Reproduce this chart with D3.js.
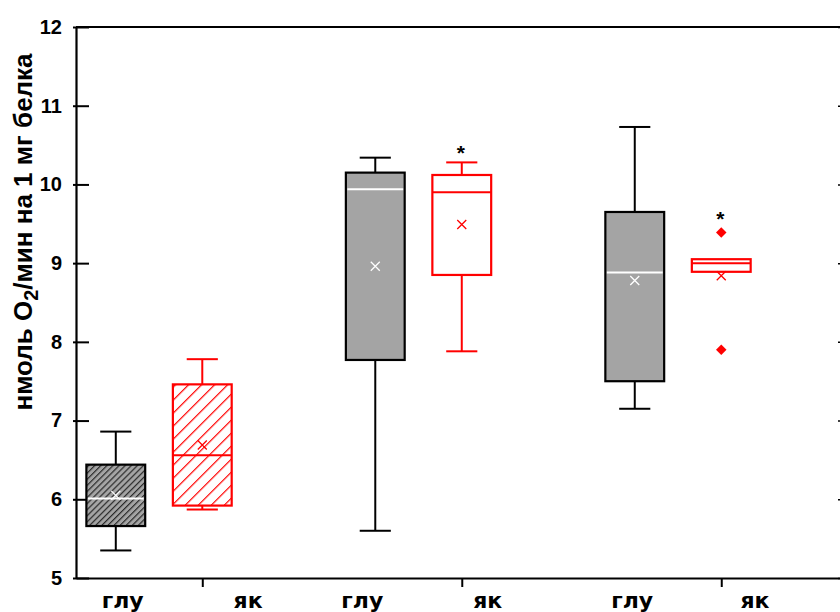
<!DOCTYPE html>
<html>
<head>
<meta charset="utf-8">
<script src="https://cdn.jsdelivr.net/npm/d3@7"></script>
<style>
  html, body { margin: 0; padding: 0; background: #fff; }
  svg { display: block; }
</style>
</head>
<body>
<svg id="chart" width="840" height="612"></svg>
<script>
// ---- data ----
const categories  = ["глу", "як", "глу", "як", "глу", "як"];
const seriesType  = ["глу", "як", "глу", "як", "глу", "як"];
const hatched     = [true, true, false, false, false, false];
const whiskerLow  = [5.35, 5.87, 5.60, 7.88, 7.15, 8.89];
const q1          = [5.66, 5.92, 7.77, 8.85, 7.50, 8.89];
const median      = [6.01, 6.56, 9.94, 9.90, 8.88, 9.00];
const q3          = [6.44, 7.46, 10.15, 10.12, 9.65, 9.05];
const whiskerHigh = [6.86, 7.78, 10.34, 10.28, 10.73, 9.05];
const meanVal     = [6.05, 6.69, 8.96, 9.49, 8.78, 8.84];
const outliers    = [[], [], [], [], [], [9.39, 7.90]];
const significant = [false, false, false, true, false, true];
const yTicks      = [5, 6, 7, 8, 9, 10, 11, 12];
const xTickPos    = [1, 4, 7];

// ---- layout ----
const catPos   = [0, 1, 3, 4, 6, 7];
const labelPos = [0.08, 1.53, 2.85, 4.30, 5.97, 7.39];
const svg = d3.select("#chart");
const mLeft = 76, mRight = 851, mTop = 27, mBottom = 578;
const x = d3.scaleLinear().domain([-0.46, 8.5]).range([mLeft, mRight]);
const y = d3.scaleLinear().domain([5, 12]).range([mBottom, mTop]);
const unit = x(1) - x(0);
const boxW = 0.68 * unit, capW = 0.36 * unit;
const RED = "#ff0000", GRAY = "#a4a4a4";

// patterns
const defs = svg.append("defs");
const p1 = defs.append("pattern").attr("id", "hatchDark")
  .attr("patternUnits", "userSpaceOnUse").attr("width", 4.3).attr("height", 10)
  .attr("patternTransform", "rotate(45)");
p1.append("rect").attr("width", 4.3).attr("height", 10).attr("fill", GRAY);
p1.append("line").attr("x1", 0.6).attr("x2", 0.6).attr("y1", 0).attr("y2", 10)
  .attr("stroke", "#2a2a2a").attr("stroke-width", 1.2);
const p2 = defs.append("pattern").attr("id", "hatchRed")
  .attr("patternUnits", "userSpaceOnUse").attr("width", 9.2).attr("height", 10)
  .attr("patternTransform", "rotate(45)");
p2.append("rect").attr("width", 9.2).attr("height", 10).attr("fill", "#fff");
p2.append("line").attr("x1", 0.6).attr("x2", 0.6).attr("y1", 0).attr("y2", 10)
  .attr("stroke", RED).attr("stroke-width", 1.2);

// frame lines
const g = svg.append("g");
g.append("line").attr("x1", mLeft).attr("x2", 860).attr("y1", mTop).attr("y2", mTop)
  .attr("stroke", "#000").attr("stroke-width", 2);
g.append("line").attr("x1", mRight).attr("x2", mRight).attr("y1", mTop).attr("y2", mBottom)
  .attr("stroke", "#000").attr("stroke-width", 2);

// left axis
const yAxis = d3.axisLeft(y).tickValues(yTicks).tickSizeInner(-13).tickSizeOuter(0).tickPadding(14).tickFormat(d3.format("d"));
const ya = svg.append("g").attr("transform", `translate(${mLeft},0)`).call(yAxis);
ya.select(".domain").attr("stroke", "#000").attr("stroke-width", 2.2);
ya.selectAll(".tick line").attr("stroke", "#000").attr("stroke-width", 2).attr("x1", -3);
ya.selectAll(".tick text").attr("font-family", "'Liberation Sans', Arial, sans-serif")
  .attr("font-weight", "bold").attr("font-size", 20).attr("fill", "#000").attr("x", -14);

// right axis ticks
const yAxisR = d3.axisRight(y).tickValues(yTicks).tickSizeInner(-13).tickSizeOuter(0).tickFormat("");
const yr = svg.append("g").attr("transform", `translate(${mRight},0)`).call(yAxisR);
yr.select(".domain").attr("stroke", "#000").attr("stroke-width", 2);
yr.selectAll(".tick line").attr("stroke", "#000").attr("stroke-width", 1.5);

// bottom axis
const xAxis = d3.axisBottom(x).tickValues(xTickPos).tickSizeInner(9).tickSizeOuter(0).tickFormat("");
const xa = svg.append("g").attr("transform", `translate(0,${mBottom})`).call(xAxis);
xa.select(".domain").attr("stroke", "#000").attr("stroke-width", 2.2);
xa.selectAll(".tick line").attr("stroke", "#000").attr("stroke-width", 2);

// x labels
svg.append("g").selectAll("text").data(categories).join("text")
  .attr("x", (d, i) => x(labelPos[i])).attr("y", 608)
  .attr("text-anchor", "middle")
  .attr("font-family", "'DejaVu Sans', Verdana, sans-serif")
  .attr("font-weight", "bold").attr("font-size", 22).attr("fill", "#000")
  .text(d => d);

// y label
const yl = svg.append("text")
  .attr("transform", "translate(32,232) rotate(-90)")
  .attr("text-anchor", "middle")
  .attr("font-family", "'Liberation Sans', Arial, sans-serif")
  .attr("font-weight", "bold").attr("font-size", 26).attr("fill", "#000");
yl.append("tspan").text("нмоль O");
yl.append("tspan").attr("dy", 6).attr("font-size", 20).text("2");
yl.append("tspan").attr("dy", -6).text("/мин на 1 мг белка");

// boxes
const boxes = svg.append("g").selectAll("g").data(categories).join("g");
boxes.each(function(d, i) {
  const s = d3.select(this);
  const cx = x(catPos[i]);
  const isRed = seriesType[i] === "як";
  const stroke = isRed ? RED : "#000";
  const fill = hatched[i] ? (isRed ? "url(#hatchRed)" : "url(#hatchDark)") : (isRed ? "#fff" : GRAY);
  const medColor = isRed ? RED : "#fff";
  // whiskers
  s.append("line").attr("x1", cx).attr("x2", cx).attr("y1", y(q3[i])).attr("y2", y(whiskerHigh[i]))
    .attr("stroke", stroke).attr("stroke-width", 2);
  s.append("line").attr("x1", cx).attr("x2", cx).attr("y1", y(q1[i])).attr("y2", y(whiskerLow[i]))
    .attr("stroke", stroke).attr("stroke-width", 2);
  if (whiskerHigh[i] > q3[i]) {
    s.append("line").attr("x1", cx - capW / 2).attr("x2", cx + capW / 2)
      .attr("y1", y(whiskerHigh[i])).attr("y2", y(whiskerHigh[i]))
      .attr("stroke", stroke).attr("stroke-width", 2);
  }
  if (whiskerLow[i] < q1[i]) {
    s.append("line").attr("x1", cx - capW / 2).attr("x2", cx + capW / 2)
      .attr("y1", y(whiskerLow[i])).attr("y2", y(whiskerLow[i]))
      .attr("stroke", stroke).attr("stroke-width", 2);
  }
  // box
  s.append("rect").attr("x", cx - boxW / 2).attr("width", boxW)
    .attr("y", y(q3[i])).attr("height", y(q1[i]) - y(q3[i]))
    .attr("fill", fill).attr("stroke", stroke).attr("stroke-width", 2.2);
  // median
  s.append("line").attr("x1", cx - boxW / 2 + (isRed ? 0 : 1.5)).attr("x2", cx + boxW / 2 - (isRed ? 0 : 1.5))
    .attr("y1", y(median[i])).attr("y2", y(median[i]))
    .attr("stroke", medColor).attr("stroke-width", 2);
  // mean x
  const my = y(meanVal[i]), r = 4.5;
  s.append("path").attr("d", `M${cx - r},${my - r}L${cx + r},${my + r}M${cx - r},${my + r}L${cx + r},${my - r}`)
    .attr("stroke", isRed ? RED : "#fff").attr("stroke-width", 1.3).attr("fill", "none");
  // outliers
  s.selectAll("path.out").data(outliers[i]).join("path").attr("class", "out")
    .attr("d", d3.symbol(d3.symbolDiamond2, 70))
    .attr("transform", v => `translate(${cx},${y(v)})`)
    .attr("fill", RED);
  // significance
  if (significant[i]) {
    const topV = Math.max(whiskerHigh[i], q3[i], ...outliers[i]);
    const sy = y(topV) - (outliers[i].length ? 18 : 14);
    s.append("text").attr("x", cx - 1).attr("y", sy + 12)
      .attr("text-anchor", "middle")
      .attr("font-family", "'Liberation Sans', Arial, sans-serif")
      .attr("font-weight", "bold").attr("font-size", 21).attr("fill", "#000")
      .text("*");
  }
});
</script>
</body>
</html>
